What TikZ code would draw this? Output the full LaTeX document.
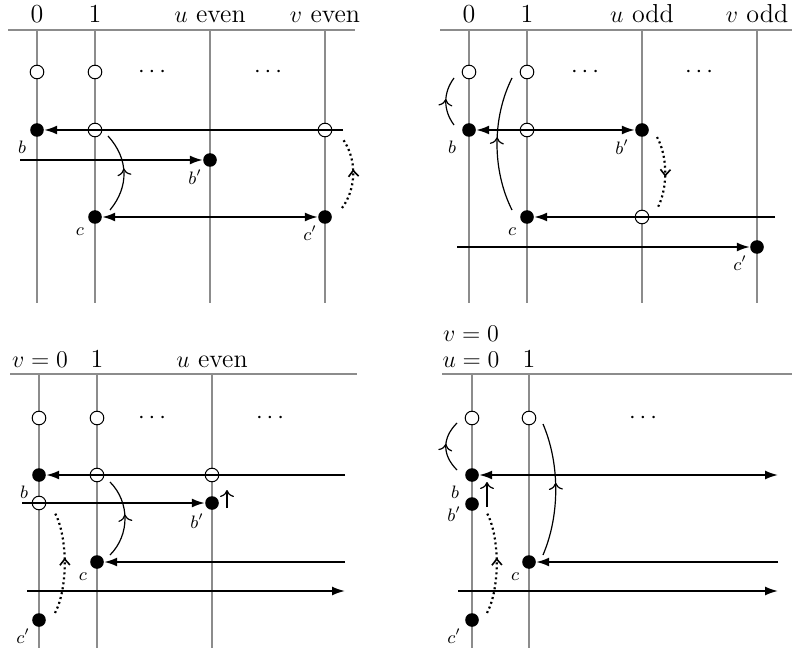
\documentclass[tikz,border=0pt]{standalone}
\usetikzlibrary{arrows.meta,decorations.markings}
\tikzset{
 gl/.style={draw=black!45, line width=0.7pt},
 op/.style={circle, draw=black, fill=white, line width=0.5pt, minimum size=6.8pt, inner sep=0pt},
 fl/.style={circle, fill=black, minimum size=6.8pt, inner sep=0pt},
 ha/.style={line width=0.9pt, -{Latex[length=6.5pt,width=4.5pt]}},
 hb/.style={line width=0.9pt, {Latex[length=6.5pt,width=4.5pt]}-{Latex[length=6.5pt,width=4.5pt]}},
 cv/.style={line width=0.6pt, postaction={decorate}, decoration={markings, mark=at position 0.55 with {\arrow{Computer Modern Rightarrow[length=3.5pt,width=7pt]}}}},
 dt/.style={line width=1.1pt, dash pattern=on 1pt off 1.5pt, postaction={decorate}, decoration={markings, mark=at position 0.55 with {\arrow[solid,line width=0.8pt]{Straight Barb[length=3pt,width=5pt]}}}},
 sa/.style={line width=0.6pt, -{Computer Modern Rightarrow[length=3.5pt,width=7pt]}},
 hd/.style={font=\fontsize{13}{15}\selectfont, anchor=base, inner sep=0pt},
 lb/.style={font=\fontsize{9}{11}\selectfont, inner sep=0pt},
 dd/.style={font=\fontsize{13}{15}\selectfont, inner sep=0pt},
}
\begin{document}
\begin{tikzpicture}[x=0.5pt,y=-0.5pt]
\useasboundingbox (0,0) rectangle (792,652);
% ================= Panel 1 =================
\draw[gl] (8,30) -- (355,30);
\foreach \x in {37,95,210,325} \draw[gl] (\x,30) -- (\x,303);
\node[hd] (h10) at (37,23) {0};
\node[hd] (h11) at (95,23) {1};
\node[hd] (h1u) at (210,23) {$u$ even};
\node[hd] (h1v) at (325,23) {$v$ even};
\node[dd] (d1a) at (152,72) {$\cdots$};
\node[dd] (d1b) at (268,72) {$\cdots$};
\node[op] (p1o1) at (37,72) {};
\node[op] (p1o2) at (95,72) {};
\node[op] (p1o3) at (95,130) {};
\node[op] (p1o4) at (325,130) {};
\node[fl] (p1b) at (37,130) {};
\node[fl] (p1bb) at (210,160) {};
\node[fl] (p1c) at (95,217) {};
\node[fl] (p1cc) at (325,217) {};
\node[lb] (l1b) at (22,147) {$b$};
\node[lb] (l1bb) at (195,177) {$b'$};
\node[lb] (l1c) at (80,232) {$c$};
\node[lb] (l1cc) at (310,233) {$c'$};
\coordinate (q1a) at (343,130);
\coordinate (q1b) at (20,160);
\draw[ha] (q1a) -- (p1b);
\draw[ha] (q1b) -- (p1bb);
\draw[hb] (p1c) -- (p1cc);
\coordinate (k1a) at (110,210); \coordinate (k1b) at (108,136);
\draw[cv] (k1a) .. controls (129,187) and (129,159) .. (k1b);
\coordinate (k1c) at (342,208); \coordinate (k1d) at (342,138);
\draw[dt] (k1c) .. controls (357,188) and (357,158) .. (k1d);
% ================= Panel 2 =================
\draw[gl] (440,30) -- (792,30);
\foreach \x in {469,527,642,757} \draw[gl] (\x,30) -- (\x,303);
\node[hd] (h20) at (469,23) {0};
\node[hd] (h21) at (527,23) {1};
\node[hd] (h2u) at (642,23) {$u$ odd};
\node[hd] (h2v) at (757,23) {$v$ odd};
\node[dd] (d2a) at (585,72) {$\cdots$};
\node[dd] (d2b) at (699,72) {$\cdots$};
\node[op] (p2o1) at (469,72) {};
\node[op] (p2o2) at (527,72) {};
\node[op] (p2o3) at (527,130) {};
\node[op] (p2o4) at (642,217) {};
\node[fl] (p2b) at (469,130) {};
\node[fl] (p2bb) at (642,130) {};
\node[fl] (p2c) at (527,217) {};
\node[fl] (p2cc) at (757,247) {};
\node[lb] (l2b) at (452,147) {$b$};
\node[lb] (l2bb) at (622,147) {$b'$};
\node[lb] (l2c) at (512,232) {$c$};
\node[lb] (l2cc) at (740,263) {$c'$};
\coordinate (q2a) at (775,217);
\coordinate (q2b) at (457,247);
\draw[hb] (p2b) -- (p2bb);
\draw[ha] (q2a) -- (p2c);
\draw[ha] (q2b) -- (p2cc);
\coordinate (k2a) at (454,125); \coordinate (k2b) at (454,78);
\draw[cv] (k2a) .. controls (443,110) and (443,93) .. (k2b);
\coordinate (k2c) at (512,210); \coordinate (k2d) at (512,78);
\draw[cv] (k2c) .. controls (492,170) and (492,118) .. (k2d);
\coordinate (k2e) at (657,137); \coordinate (k2f) at (657,209);
\draw[dt] (k2e) .. controls (668,157) and (668,189) .. (k2f);
% ================= Panel 3 =================
\draw[gl] (10,374) -- (357,374);
\foreach \x in {39,97,212} \draw[gl] (\x,374) -- (\x,648);
\node[hd] (h30) at (40,367) {$v=0$};
\node[hd] (h31) at (97,367) {1};
\node[hd] (h3u) at (212,367) {$u$ even};
\node[dd] (d3a) at (152,418) {$\cdots$};
\node[dd] (d3b) at (270,418) {$\cdots$};
\node[op] (p3o1) at (39,418) {};
\node[op] (p3o2) at (97,418) {};
\node[op] (p3o3) at (97,475) {};
\node[op] (p3o4) at (212,475) {};
\node[op] (p3o5) at (39,503) {};
\node[fl] (p3b) at (39,475) {};
\node[fl] (p3bb) at (212,503) {};
\node[fl] (p3c) at (97,562) {};
\node[fl] (p3cc) at (39,620) {};
\node[lb] (l3b) at (24,492) {$b$};
\node[lb] (l3bb) at (197,521) {$b'$};
\node[lb] (l3c) at (83,577) {$c$};
\node[lb] (l3cc) at (23,636) {$c'$};
\coordinate (q3a) at (345,475);
\coordinate (q3b) at (22,503);
\coordinate (q3c) at (345,562);
\coordinate (q3d) at (27,591);
\coordinate (q3e) at (345,591);
\draw[ha] (q3a) -- (p3b);
\draw[ha] (q3b) -- (p3bb);
\draw[ha] (q3c) -- (p3c);
\draw[ha] (q3d) -- (q3e);
\coordinate (s3a) at (227,508); \coordinate (s3b) at (227,490);
\draw[sa] (s3a) -- (s3b);
\coordinate (k3a) at (110,555); \coordinate (k3b) at (110,482);
\draw[cv] (k3a) .. controls (130,535) and (130,502) .. (k3b);
\coordinate (k3c) at (55,613); \coordinate (k3d) at (55,513);
\draw[dt] (k3c) .. controls (68,588) and (68,538) .. (k3d);
% ================= Panel 4 =================
\draw[gl] (442,374) -- (792,374);
\foreach \x in {472,529} \draw[gl] (\x,374) -- (\x,648);
\node[hd] (h4v) at (471,341) {$v=0$};
\node[hd] (h4u) at (471,367) {$u=0$};
\node[hd] (h41) at (529,367) {1};
\node[dd] (d4a) at (643,418) {$\cdots$};
\node[op] (p4o1) at (472,418) {};
\node[op] (p4o2) at (529,418) {};
\node[fl] (p4b) at (472,475) {};
\node[fl] (p4bb) at (472,504) {};
\node[fl] (p4c) at (529,562) {};
\node[fl] (p4cc) at (472,620) {};
\node[lb] (l4b) at (455,492) {$b$};
\node[lb] (l4bb) at (454,514) {$b'$};
\node[lb] (l4c) at (515,577) {$c$};
\node[lb] (l4cc) at (454,636) {$c'$};
\coordinate (q4a) at (778,475);
\coordinate (q4c) at (778,562);
\coordinate (q4d) at (458,591);
\coordinate (q4e) at (778,591);
\draw[hb] (p4b) -- (q4a);
\draw[ha] (q4c) -- (p4c);
\draw[ha] (q4d) -- (q4e);
\coordinate (s4a) at (487,507); \coordinate (s4b) at (487,482);
\draw[sa] (s4a) -- (s4b);
\coordinate (k4a) at (457,470); \coordinate (k4b) at (457,423);
\draw[cv] (k4a) .. controls (442,455) and (442,438) .. (k4b);
\coordinate (k4c) at (543,555); \coordinate (k4d) at (543,424);
\draw[cv] (k4c) .. controls (560,515) and (560,464) .. (k4d);
\coordinate (k4e) at (487,613); \coordinate (k4f) at (487,513);
\draw[dt] (k4e) .. controls (500,588) and (500,538) .. (k4f);
\end{tikzpicture}
\end{document}
